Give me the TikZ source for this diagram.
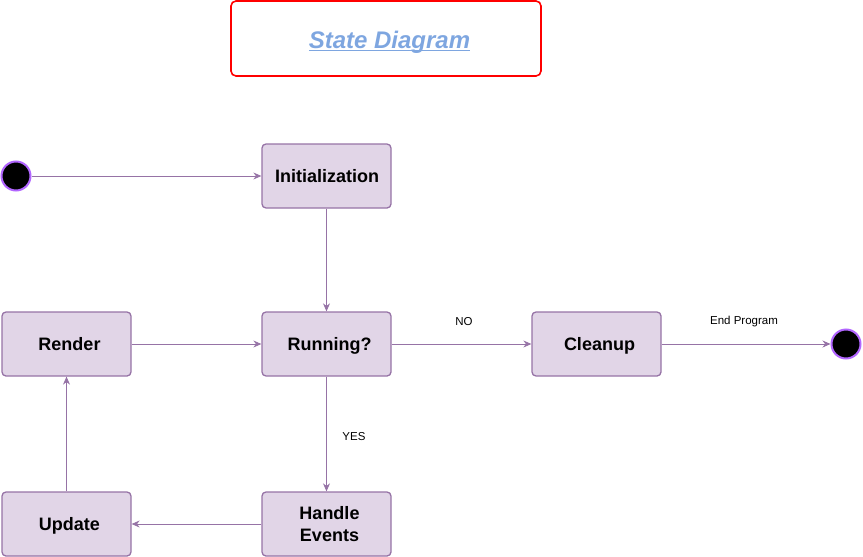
\documentclass[tikz,border=0pt]{standalone}
\usepackage{fontspec}
\setmainfont{Liberation Sans}
\usetikzlibrary{arrows.meta}
\definecolor{sfill}{HTML}{E1D5E7}
\definecolor{sdraw}{HTML}{9673A6}
\definecolor{cdraw}{HTML}{B266FF}
\definecolor{ttl}{HTML}{7EA6E0}
\newcommand\thickul[1]{\setbox0\hbox{#1}\rlap{\usebox0}\raisebox{-2.6pt}{\rule{\wd0}{1.4pt}}}
\tikzset{
  statebox/.style={draw=sdraw, fill=sfill, line width=1.3pt, rounded corners=4pt,
    minimum width=129pt, minimum height=64pt, inner sep=0pt},
  boxtext/.style={inner sep=0pt, anchor=base, align=center, font=\fontsize{18}{21.6}\selectfont\bfseries},
  endpt/.style={circle, draw=cdraw, fill=black, line width=2pt, minimum size=29pt, inner sep=0pt},
  conn/.style={draw=sdraw, line width=0.8pt, -{Stealth[length=8pt,width=7pt]}},
  lbl/.style={font=\fontsize{11.5}{13}\selectfont, inner sep=0pt}
}
\begin{document}
\begin{tikzpicture}[x=1pt,y=-1pt]
\useasboundingbox (0,0) rectangle (863,557);
\node[draw=red, line width=1.6pt, rounded corners=5pt, minimum width=310pt, minimum height=75pt] (title) at (386,38.5) {};
\node[font=\fontsize{24}{28}\selectfont\bfseries\itshape, text=ttl, inner sep=0pt, anchor=base] (ttltext) at (389.5,48.6) {\thickul{State Diagram}};
\node[endpt] (start) at (16,176) {};
\node[endpt] (fin) at (846,344) {};
\node[statebox] (init) at (326.5,176) {};
\node[statebox] (run) at (326.5,344) {};
\node[statebox] (render) at (66.5,344) {};
\node[statebox] (update) at (66.5,524) {};
\node[statebox] (handle) at (326.5,524) {};
\node[statebox] (clean) at (596.5,344) {};
\node[boxtext] (t1) at (327,182.5) {Initialization};
\node[boxtext] (t2) at (329.5,350.5) {Running?};
\node[boxtext] (t3) at (69.5,350.5) {Render};
\node[boxtext] (t4) at (69.5,530.5) {Update};
\node[boxtext] (t5) at (329.5,541.3) {Handle\\Events};
\node[boxtext] (t6) at (599.5,350.5) {Cleanup};
\draw[conn] (start) -- (init);
\draw[conn] (init) -- (run);
\draw[conn] (run) -- (clean);
\draw[conn] (clean) -- (fin);
\draw[conn] (run) -- (handle);
\draw[conn] (handle) -- (update);
\draw[conn] (update) -- (render);
\draw[conn] (render) -- (run);
\node[lbl] (no) at (464,321.5) {NO};
\node[lbl] (endp) at (744,321.5) {End Program};
\node[lbl] (yes) at (354,436.5) {YES};
\end{tikzpicture}
\end{document}
